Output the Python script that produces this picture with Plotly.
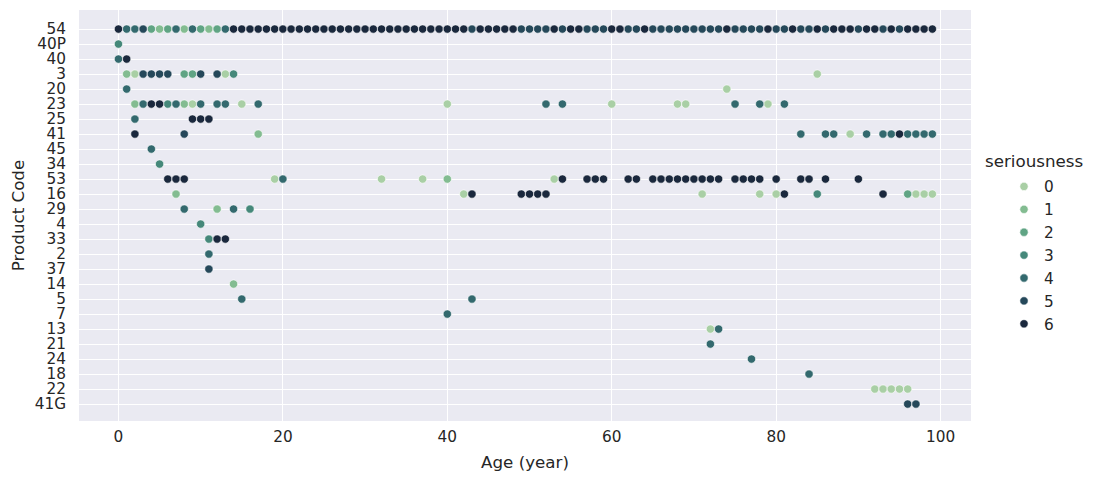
import numpy as np
import plotly.graph_objects as go

# ---------------- data ----------------
product_codes = ["54", "40P", "40", "3", "20", "23", "25", "41", "45", "34", "53", "16",
                 "29", "4", "33", "2", "37", "14", "5", "7", "13", "21", "24", "18", "22", "41G"]
levels = [0, 1, 2, 3, 4, 5, 6]
x_ticks = [0, 20, 40, 60, 80, 100]

age_54 = [0, 1, 2, 3, 4, 5, 6, 7, 8, 9, 10, 11, 12, 13, 14, 15, 16, 17, 18, 19, 20, 21, 22, 23, 24,
          25, 26, 27, 28, 29, 30, 31, 32, 33, 34, 35, 36, 37, 38, 39, 40, 41, 42, 43, 44, 45, 46, 47,
          48, 49, 50, 51, 52, 53, 54, 55, 56, 57, 58, 59, 60, 61, 62, 63, 64, 65, 66, 67, 68, 69, 70,
          71, 72, 73, 74, 75, 76, 77, 78, 79, 80, 81, 82, 83, 84, 85, 86, 87, 88, 89, 90, 91, 92, 93,
          94, 95, 96, 97, 98, 99]
sev_54 = [6, 4, 4, 5, 2, 1, 2, 4, 1, 4, 2, 1, 2, 4, 6, 6, 6, 6, 6, 6, 6, 6, 6, 6, 6,
          6, 6, 6, 6, 6, 6, 6, 6, 6, 6, 6, 6, 6, 6, 6, 6, 6, 6, 5, 6, 6, 6, 6,
          6, 5, 5, 5, 5, 6, 5, 6, 6, 5, 5, 5, 6, 6, 5, 5, 6, 5, 5, 5, 5, 5, 5,
          5, 5, 5, 6, 5, 5, 5, 5, 6, 5, 5, 6, 5, 5, 6, 5, 6, 6, 6, 5, 6, 6, 5,
          6, 5, 6, 6, 6, 6]
age_40P = [0]
sev_40P = [3]
age_40 = [0, 1]
sev_40 = [4, 6]
age_3 = [1, 2, 3, 4, 5, 6, 8, 9, 10, 12, 13, 14, 85]
sev_3 = [1, 0, 5, 5, 5, 5, 2, 2, 5, 5, 0, 3, 0]
age_20 = [1, 74]
sev_20 = [4, 0]
age_23 = [2, 3, 4, 5, 6, 7, 8, 9, 10, 12, 13, 15, 17, 40, 52, 54, 60, 68, 69, 75, 78, 79, 81]
sev_23 = [1, 4, 6, 6, 3, 4, 1, 0, 4, 4, 4, 0, 4, 0, 4, 4, 0, 0, 0, 4, 4, 0, 4]
age_25 = [2, 9, 10, 11]
sev_25 = [4, 6, 6, 6]
age_41 = [2, 8, 17, 83, 86, 87, 89, 91, 93, 94, 95, 96, 97, 98, 99]
sev_41 = [6, 5, 1, 4, 4, 4, 0, 4, 4, 4, 6, 4, 4, 4, 4]
age_45 = [4]
sev_45 = [4]
age_34 = [5]
sev_34 = [3]
age_53 = [6, 7, 8, 19, 20, 32, 37, 40, 53, 54, 57, 58, 59, 62, 63, 65, 66, 67, 68, 69, 70, 71,
          72, 73, 75, 76, 77, 78, 80, 83, 84, 86, 90]
sev_53 = [6, 6, 6, 0, 4, 0, 0, 1, 0, 6, 6, 6, 6, 6, 6, 6, 6, 6, 6, 6, 6, 6,
          6, 6, 6, 6, 6, 6, 6, 6, 6, 6, 6]
age_16 = [7, 42, 43, 49, 50, 51, 52, 71, 78, 80, 81, 85, 93, 96, 97, 98, 99]
sev_16 = [1, 0, 6, 6, 6, 6, 6, 0, 0, 0, 6, 3, 6, 2, 0, 0, 0]
age_29 = [8, 12, 14, 16]
sev_29 = [4, 1, 4, 3]
age_4 = [10]
sev_4 = [3]
age_33 = [11, 12, 13]
sev_33 = [3, 6, 6]
age_2 = [11]
sev_2 = [4]
age_37 = [11]
sev_37 = [5]
age_14 = [14]
sev_14 = [1]
age_5 = [15, 43]
sev_5 = [4, 4]
age_7 = [40]
sev_7 = [4]
age_13 = [72, 73]
sev_13 = [0, 4]
age_21 = [72]
sev_21 = [4]
age_24 = [77]
sev_24 = [4]
age_18 = [84]
sev_18 = [4]
age_22 = [92, 93, 94, 95, 96]
sev_22 = [0, 0, 0, 0, 0]
age_41G = [96, 97]
sev_41G = [5, 5]

rows = {
    "54": (age_54, sev_54), "40P": (age_40P, sev_40P), "40": (age_40, sev_40),
    "3": (age_3, sev_3), "20": (age_20, sev_20), "23": (age_23, sev_23),
    "25": (age_25, sev_25), "41": (age_41, sev_41), "45": (age_45, sev_45),
    "34": (age_34, sev_34), "53": (age_53, sev_53), "16": (age_16, sev_16),
    "29": (age_29, sev_29), "4": (age_4, sev_4), "33": (age_33, sev_33),
    "2": (age_2, sev_2), "37": (age_37, sev_37), "14": (age_14, sev_14),
    "5": (age_5, sev_5), "7": (age_7, sev_7), "13": (age_13, sev_13),
    "21": (age_21, sev_21), "24": (age_24, sev_24), "18": (age_18, sev_18),
    "22": (age_22, sev_22), "41G": (age_41G, sev_41G),
}

code_all, age_all, sev_all = [], [], []
for c in product_codes:
    a, s = rows[c]
    code_all += [c] * len(a)
    age_all += a
    sev_all += s
code_all = np.array(code_all)
age_all = np.array(age_all)
sev_all = np.array(sev_all)

# ------------- seaborn "ch:r=-.5,l=.75" palette -------------
def cubehelix(x, start=0.0, rot=-0.5, gamma=1.0, hue=0.8):
    xg = x ** gamma
    a = hue * xg * (1 - xg) / 2
    phi = 2 * np.pi * (start / 3 + rot * x)
    r = xg + a * (-0.14861 * np.cos(phi) + 1.78277 * np.sin(phi))
    g = xg + a * (-0.29227 * np.cos(phi) - 0.90649 * np.sin(phi))
    b = xg + a * (1.97294 * np.cos(phi))
    return np.clip([r, g, b], 0, 1)

light, dark = 0.75, 0.15
def level_color(v):
    idx = min(int(v / 6 * 256), 255)
    x = light + (dark - light) * idx / 255
    r, g, b = cubehelix(x)
    return f"rgb({int(round(r*255))},{int(round(g*255))},{int(round(b*255))})"

# ---------------- figure ----------------
# page body has an 8px margin: figure is sized/positioned to compensate
W, H = 1087, 476
L, T = 71, 2
PW, PH = 892, 411

fig = go.Figure()
for lv in levels:
    m = sev_all == lv
    fig.add_trace(go.Scatter(
        x=age_all[m], y=code_all[m], mode="markers", name=str(lv),
        legendgroup=str(lv),
        marker=dict(size=8.3, color=level_color(lv), line=dict(color="white", width=0.6)),
    ))

font_color = "#262626"
fig.update_layout(
    width=W, height=H,
    margin=dict(l=L, r=W - L - PW, t=T, b=H - T - PH, autoexpand=False),
    paper_bgcolor="white", plot_bgcolor="#EAEAF2",
    font=dict(family="DejaVu Sans", color=font_color, size=15.3),
    showlegend=True,
    legend=dict(
        font=dict(size=15.3, color=font_color),
        x=(1004 - 8 - L) / PW, xanchor="left",
        y=(T + PH - (170 - 8)) / PH, yanchor="top",
        bgcolor="rgba(0,0,0,0)", tracegroupgap=0, itemwidth=30,
    ),
    annotations=[dict(
        text="seriousness", xref="paper", yref="paper",
        x=(983 - 8 - L) / PW, xanchor="left",
        y=(T + PH - (161 - 8)) / PH, yanchor="middle",
        showarrow=False, font=dict(size=16.7, color=font_color),
    )],
)
fig.update_xaxes(
    range=[-4.8, 103.7], tickmode="array", tickvals=x_ticks,
    ticktext=[str(v) for v in x_ticks],
    showgrid=True, gridcolor="white", gridwidth=1.3, zeroline=False,
    showline=False, ticks="", ticklabelstandoff=5,
    title=dict(text="Age (year)", font=dict(size=16.7), standoff=11),
    tickfont=dict(size=15.3),
)
fig.update_yaxes(
    type="category", categoryorder="array", categoryarray=product_codes,
    tickmode="array", tickvals=product_codes, ticktext=product_codes,
    range=[25 + 1.13, -1.27],
    showgrid=True, gridcolor="white", gridwidth=1.3, zeroline=False,
    showline=False, ticks="", ticklabelstandoff=12,
    title=dict(text="Product Code", font=dict(size=16.7), standoff=8),
    tickfont=dict(size=15.3),
)

fig.write_html("out.html")
